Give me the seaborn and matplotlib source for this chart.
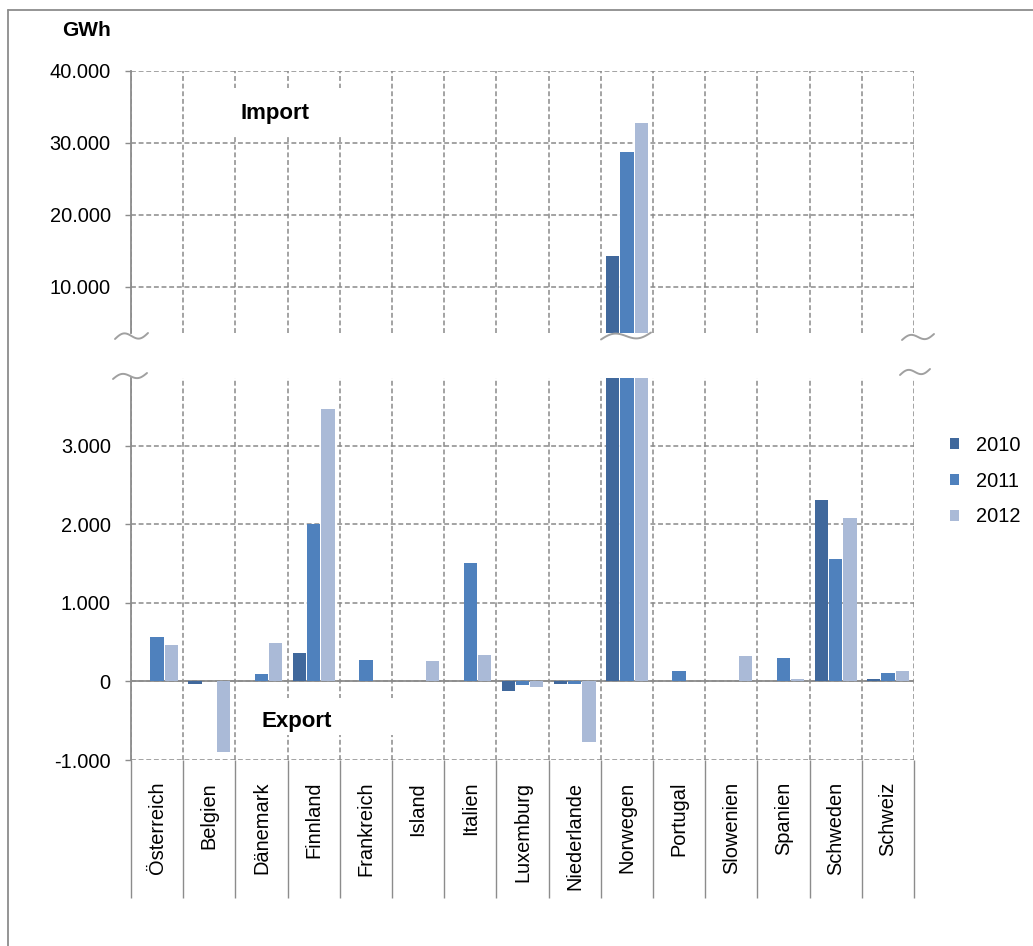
import numpy as np
import pandas as pd
import matplotlib
matplotlib.use("Agg")
import matplotlib.pyplot as plt
from matplotlib.lines import Line2D
from matplotlib.patches import Rectangle, Polygon
from matplotlib.ticker import FuncFormatter
import seaborn as sns

# Electricity exchange balance per country (GWh), positive = import, negative = export
countries = ["Österreich", "Belgien", "Dänemark", "Finnland", "Frankreich", "Island",
             "Italien", "Luxemburg", "Niederlande", "Norwegen", "Portugal", "Slowenien",
             "Spanien", "Schweden", "Schweiz"]
years = ["2010", "2011", "2012"]
v2010 = [0, -30, 0, 360, 0, 0, 0, -115, -30, 14300, 0, 0, 0, 2310, 30]
v2011 = [570, 0, 95, 2005, 280, 0, 1505, -50, -30, 28750, 130, 0, 300, 1565, 110]
v2012 = [465, -900, 490, 3465, 0, 260, 340, -75, -770, 32800, 0, 320, 30, 2085, 130]
colors = ["#40689C", "#4F81BD", "#AABAD7"]

top_ticks = [10000, 20000, 30000, 40000]
bottom_ticks = [-1000, 0, 1000, 2000, 3000]

df = pd.DataFrame({
    "Land": countries * 3,
    "Jahr": [years[0]] * 15 + [years[1]] * 15 + [years[2]] * 15,
    "GWh": v2010 + v2011 + v2012,
})

sns.set_theme(style="white")
plt.rcParams["font.family"] = ["Liberation Sans", "DejaVu Sans"]
plt.rcParams["text.color"] = "black"
plt.rcParams["xtick.color"] = "black"
plt.rcParams["ytick.color"] = "black"

W, H = 1033, 946
fig = plt.figure(figsize=(W / 100, H / 100), dpi=100)


def fx(x):
    return x / W


def fy(y):
    return 1 - y / H


GRID = "#8A8A8A"
AXC = "#8C8C8C"
FS = 14.4

ax_top = fig.add_axes([fx(131), fy(333.5), 783 / W, 262.8 / H])
ax_bot = fig.add_axes([fx(131), fy(760), 783 / W, 382 / H])

for ax, show_leg in ((ax_top, False), (ax_bot, True)):
    sns.barplot(data=df, x="Land", y="GWh", hue="Jahr", order=countries,
                hue_order=years, palette=colors, width=0.82, gap=0.07,
                edgecolor="none", linewidth=0, saturation=1, ax=ax,
                legend=show_leg, zorder=3)
    ax.set_xlabel("")
    ax.set_ylabel("")
    ax.set_xlim(-0.5, len(countries) - 0.5)
    ax.set_xticks(np.arange(-0.5, len(countries), 1), minor=True)
    ax.grid(False)
    ax.grid(axis="x", which="minor", color=GRID, lw=1.1, ls=(0, (3.2, 1.8)), zorder=1)
    ax.grid(axis="y", which="major", color=GRID, lw=1.1, ls=(0, (3.2, 1.8)), zorder=1)
    for s in ("top", "right", "bottom"):
        ax.spines[s].set_visible(False)
    ax.spines["left"].set_color(AXC)
    ax.spines["left"].set_linewidth(1.3)
    ax.spines["left"].set_zorder(4)
    ax.yaxis.set_major_formatter(FuncFormatter(lambda v, p: f"{v:,.0f}".replace(",", ".")))
    ax.tick_params(axis="y", which="major", left=True, length=4.5, width=1.0, color=AXC,
                   labelsize=FS, pad=10, labelcolor="black")
    ax.set_axisbelow(True)

# upper panel: large import values
ax_top.set_ylim(3500, 40000)
ax_top.set_yticks(top_ticks)
ax_top.tick_params(axis="x", which="both", length=0, labelbottom=False)

# lower panel: small values around zero
ax_bot.set_ylim(-1000, 3866)
ax_bot.set_yticks(bottom_ticks)
ax_bot.axhline(0, color=AXC, lw=1.3, zorder=2.5)
ax_bot.tick_params(axis="x", which="major", bottom=True, length=0, pad=15.8,
                   labelsize=FS, labelrotation=90, labelcolor="black")
ax_bot.tick_params(axis="x", which="minor", bottom=True, length=99, width=1.0,
                   color=AXC, direction="out")

# legend on the right
handles, labels = ax_bot.get_legend_handles_labels()
ax_bot.get_legend().remove()
fig.legend(handles, labels, loc="center left", bbox_to_anchor=(fx(950), fy(481)),
           bbox_transform=fig.transFigure, frameon=False, fontsize=FS,
           handlelength=0.45, handleheight=0.45, handletextpad=0.85,
           labelspacing=0.85, borderpad=0, borderaxespad=0)

# white label boxes
fig.add_artist(Rectangle((fx(195), fy(136)), 165 / W, 48 / H, transform=fig.transFigure,
                         facecolor="white", edgecolor="none", zorder=5))
fig.add_artist(Rectangle((fx(240), fy(735)), 165 / W, 37 / H, transform=fig.transFigure,
                         facecolor="white", edgecolor="none", zorder=5))
fig.text(fx(275.5), fy(113), "Import", ha="center", va="center", fontsize=16,
         fontweight="bold", zorder=6)
fig.text(fx(296.5), fy(721.5), "Export", ha="center", va="center", fontsize=16,
         fontweight="bold", zorder=6)
fig.text(fx(111), fy(31), "GWh", ha="right", va="center", fontsize=15,
         fontweight="bold")


# axis break marks
def wave(x0, x1, yc, amp=4.0, tilt=6.0, fill=False):
    t = np.linspace(0, 1, 60)
    xs = x0 + (x1 - x0) * t
    ys = yc - amp * np.sin(2 * np.pi * t) - tilt * (t - 0.5)
    if fill:
        pts = [(fx(a), fy(b)) for a, b in zip(xs, ys)]
        pts += [(fx(x1), fy(yc + 12)), (fx(x0), fy(yc + 12))]
        fig.add_artist(Polygon(pts, closed=True, transform=fig.transFigure,
                               facecolor="white", edgecolor="none", zorder=7))
    fig.add_artist(Line2D(fx(xs), fy(ys), transform=fig.transFigure, color="#A0A0A0",
                          lw=1.4, zorder=8))


wave(115, 148, 336)
wave(113, 147, 376, amp=3.5)
wave(601, 651, 336, amp=4.0, tilt=7, fill=True)
wave(902, 934, 337, amp=3.5)
wave(900, 930, 372, amp=3.5)

# outer frame
fig.add_artist(Line2D([fx(8), fx(8)], [fy(10), fy(946)], transform=fig.transFigure,
                      color="#8C8C8C", lw=1.3))
fig.add_artist(Line2D([fx(8), fx(1033)], [fy(10), fy(10)], transform=fig.transFigure,
                      color="#8C8C8C", lw=1.3))

fig.savefig("out.png", dpi=100)
